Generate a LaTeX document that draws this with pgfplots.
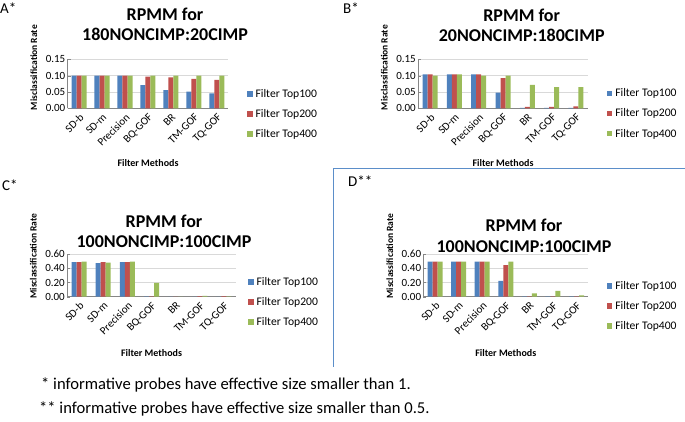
\documentclass[border=0pt]{standalone}
\usepackage{fontspec}
\setmainfont{Carlito}
\usepackage{pgfplots}
\pgfplotsset{compat=1.18}
\definecolor{cA}{HTML}{4F81BD}
\definecolor{cB}{HTML}{C0504D}
\definecolor{cC}{HTML}{9BBB59}
\definecolor{gridc}{HTML}{D9D9D9}
\definecolor{axc}{HTML}{868686}
\definecolor{framec}{HTML}{5B8EC9}
\pgfplotsset{
 panel/.style={
  anchor=south west, scale only axis,
  ybar=0pt, bar width=5pt,
  xmin=-0.5, xmax=6.5, ymin=0,
  xtick={0,...,6},
  xticklabels={SD-b,SD-m,Precision,BQ-GOF,BR,TM-GOF,TQ-GOF},
  xticklabel style={rotate=45, anchor=north east, font=\fontsize{11}{13}\selectfont, inner sep=1pt},
  yticklabel style={font=\fontsize{11}{13}\selectfont, inner sep=2pt},
  /pgf/number format/.cd, fixed, fixed zerofill, precision=2, assume math mode=true, /pgfplots/.cd,
  axis x line*=bottom, axis y line*=left,
  axis line style={axc, line width=0.6pt},
  ymajorgrids, grid style={gridc, line width=0.6pt},
  major tick length=3pt, tick style={axc},
  xtick style={draw=none},
  ylabel={\textbf{Misclassification Rate}},
  ylabel style={font=\fontsize{9.5}{11}\selectfont, at={(axis description cs:0,0)}, anchor=south west, xshift=-2pt, yshift=30pt, inner sep=0pt},
  xlabel={\textbf{Filter Methods}},
  xlabel style={font=\fontsize{10}{12}\selectfont, anchor=center},
  legend style={draw=none, fill=none, font=\fontsize{11.6}{13}\selectfont, anchor=west, at={(axis description cs:1,0)}, row sep=6.5pt, inner sep=0pt, column sep=1pt},
  legend cell align=left,
  legend image code/.code={\fill[##1] (0pt,-2.7pt) rectangle (5.4pt,2.7pt);},
 },
 b1/.style={fill=cA, draw=none},
 b2/.style={fill=cB, draw=none},
 b3/.style={fill=cC, draw=none},
}
\begin{document}
\begin{tikzpicture}
\useasboundingbox (0,0) rectangle (685pt,-422pt);
% frame line
\draw[framec, line width=0.8pt] (685pt,-168pt) -- (333pt,-168pt) -- (333pt,-367pt);
% panel letters
\node[anchor=base west, inner sep=0pt, font=\fontsize{15}{18}\selectfont] at (0pt,-13.3pt) {A*};
\node[anchor=base west, inner sep=0pt, font=\fontsize{15}{18}\selectfont] at (343pt,-13.3pt) {B*};
\node[anchor=base west, inner sep=0pt, font=\fontsize{15}{18}\selectfont] at (2pt,-190pt) {C*};
\node[anchor=base west, inner sep=0pt, font=\fontsize{15}{18}\selectfont] at (348pt,-187pt) {D**};
% titles
\begin{scope}[every node/.style={anchor=base, inner sep=0pt, font=\bfseries\fontsize{18}{21}\selectfont}]
\node at (165pt,-20.7pt) {RPMM for};
\node at (165pt,-40.7pt) {180NONCIMP:20CIMP};
\node at (521.7pt,-21.5pt) {RPMM for};
\node at (521.7pt,-41.7pt) {20NONCIMP:180CIMP};
\node at (164pt,-227.7pt) {RPMM for};
\node at (164pt,-247.3pt) {100NONCIMP:100CIMP};
\node at (524pt,-231pt) {RPMM for};
\node at (524pt,-252.3pt) {100NONCIMP:100CIMP};
\end{scope}
% footnotes
\node[anchor=base west, inner sep=0pt, font=\fontsize{16.6}{18}\selectfont] at (41pt,-389pt) {* informative probes have effective size smaller than 1.};
\node[anchor=base west, inner sep=0pt, font=\fontsize{16.6}{18}\selectfont] at (39pt,-413pt) {** informative probes have effective size smaller than 0.5.};

% Panel A
\begin{axis}[panel, at={(67.5pt,-108.3pt)}, width=161pt, height=49pt,
  ymax=0.15, ytick={0,0.05,0.10,0.15},
  xlabel style={at={(axis description cs:0.5,-1.11)}},
  legend style={xshift=18.5pt, yshift=-5.7pt}]
\addplot[b1] coordinates {(0,0.100) (1,0.100) (2,0.100) (3,0.071) (4,0.056) (5,0.051) (6,0.046)};
\addplot[b2] coordinates {(0,0.100) (1,0.100) (2,0.100) (3,0.097) (4,0.095) (5,0.090) (6,0.087)};
\addplot[b3] coordinates {(0,0.100) (1,0.100) (2,0.100) (3,0.100) (4,0.100) (5,0.100) (6,0.100)};
\legend{Filter Top100, Filter Top200, Filter Top400}
\end{axis}

% Panel B
\begin{axis}[panel, at={(418pt,-108.3pt)}, width=170pt, height=49pt,
  ymax=0.15, ytick={0,0.05,0.10,0.15},
  xlabel style={at={(axis description cs:0.5,-1.11)}},
  legend style={xshift=18.7pt, yshift=-5.4pt}]
\addplot[b1] coordinates {(0,0.104) (1,0.104) (2,0.104) (3,0.048) (4,0.001) (5,0.001) (6,0.001)};
\addplot[b2] coordinates {(0,0.104) (1,0.104) (2,0.104) (3,0.092) (4,0.004) (5,0.004) (6,0.006)};
\addplot[b3] coordinates {(0,0.100) (1,0.104) (2,0.100) (3,0.100) (4,0.072) (5,0.065) (6,0.065)};
\legend{Filter Top100, Filter Top200, Filter Top400}
\end{axis}

% Panel C
\begin{axis}[panel, at={(67pt,-296.7pt)}, width=169pt, height=42.4pt,
  ymax=0.6, ytick={0,0.2,0.4,0.6},
  xlabel style={at={(axis description cs:0.5,-1.33)}},
  legend style={xshift=12pt, yshift=-5.3pt}]
\addplot[b1] coordinates {(0,0.488) (1,0.474) (2,0.488) (3,0.005) (4,0.001) (5,0.002) (6,0.002)};
\addplot[b2] coordinates {(0,0.488) (1,0.488) (2,0.488) (3,0.005) (4,0.001) (5,0.008) (6,0.008)};
\addplot[b3] coordinates {(0,0.497) (1,0.483) (2,0.497) (3,0.197) (4,0.001) (5,0.012) (6,0.006)};
\legend{Filter Top100, Filter Top200, Filter Top400}
\end{axis}

% Panel D
\begin{axis}[panel, at={(423.3pt,-296.7pt)}, width=165pt, height=42.4pt,
  ymax=0.6, ytick={0,0.2,0.4,0.6},
  xlabel style={at={(axis description cs:0.5,-1.33)}},
  legend style={xshift=18.4pt, yshift=-9.3pt}]
\addplot[b1] coordinates {(0,0.497) (1,0.497) (2,0.497) (3,0.225) (4,0.005) (5,0.005) (6,0.005)};
\addplot[b2] coordinates {(0,0.497) (1,0.497) (2,0.497) (3,0.446) (4,0.005) (5,0.005) (6,0.005)};
\addplot[b3] coordinates {(0,0.497) (1,0.497) (2,0.497) (3,0.497) (4,0.047) (5,0.084) (6,0.020)};
\legend{Filter Top100, Filter Top200, Filter Top400}
\end{axis}
\end{tikzpicture}
\end{document}
